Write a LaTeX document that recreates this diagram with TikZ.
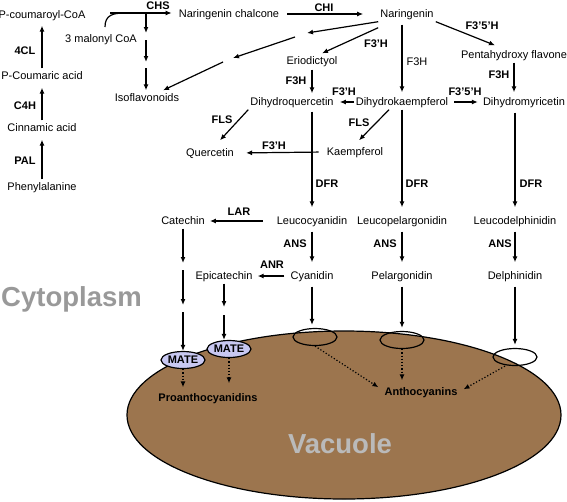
\documentclass[tikz,border=0pt]{standalone}
\usepackage{fontspec}
\setmainfont{Liberation Sans}
\usetikzlibrary{arrows.meta,shapes.geometric}
\definecolor{vacbrown}{RGB}{156,117,78}
\definecolor{matefill}{RGB}{200,200,242}
\newcommand{\metfont}{\fontsize{11}{13}\selectfont}
\begin{document}
\begin{tikzpicture}[x=1pt, y=-1pt,
    met/.style={font=\metfont, inner sep=2pt, text height=8.5pt, text depth=2.5pt},
    enz/.style={font=\metfont\bfseries, inner sep=1pt, text height=8pt, text depth=0pt},
    arrow/.style={-{Latex[length=6pt,width=5pt]}, line width=1.2pt},
    dotarrow/.style={arrow, dotted},
    mate/.style={ellipse, draw, line width=1.2pt, fill=matefill, minimum width=44pt, minimum height=17pt, inner sep=0pt, font=\fontsize{11}{12}\selectfont\bfseries},
    vesicle/.style={ellipse, draw, line width=1.2pt, minimum width=44pt, minimum height=17pt, inner sep=0pt},
    region/.style={font=\fontsize{27.5}{30}\selectfont\bfseries, inner sep=0pt}
]
\useasboundingbox (0,0) rectangle (567,501);

% Vacuole
\draw[fill=vacbrown, line width=1.2pt] (344,415) ellipse [x radius=217pt, y radius=84pt];
\node[region, text=black!40, anchor=base west] (cyto) at (1,306) {Cytoplasm};
\node[region, text=black!27, anchor=base] (vac) at (340,453) {Vacuole};

% Phenylpropanoid column
\node[met] (pcoa) at (42,15) {P-coumaroyl-CoA};
\node[met] (pca) at (42,76) {P-Coumaric acid};
\node[met] (cin) at (42,128) {Cinnamic acid};
\node[met] (phe) at (42,187) {Phenylalanine};
\node[enz] at (25,50) {4CL};
\node[enz] at (25,105) {C4H};
\node[enz] at (25,160) {PAL};

% Flavonoid core
\node[met] (malo) at (101,39) {3 malonyl CoA};
\node[met] (chal) at (229,14) {Naringenin chalcone};
\node[met] (iso) at (147,98) {Isoflavonoids};
\node[met] (nar) at (407,14) {Naringenin};
\node[met] (erio) at (312,61) {Eriodictyol};
\node[met] (penta) at (514,55) {Pentahydroxy flavone};
\node[met] (dhq) at (292,102) {Dihydroquercetin};
\node[met] (dhk) at (402,102) {Dihydrokaempferol};
\node[met] (dhm) at (524,102) {Dihydromyricetin};
\node[met] (que) at (210,153) {Quercetin};
\node[met] (kae) at (355,152) {Kaempferol};

% Leucoanthocyanidins and anthocyanidins
\node[met] (cat) at (183,221) {Catechin};
\node[met] (lcy) at (312,221) {Leucocyanidin};
\node[met] (lpe) at (402,221) {Leucopelargonidin};
\node[met] (lde) at (515,221) {Leucodelphinidin};
\node[met] (epi) at (224,276) {Epicatechin};
\node[met] (cya) at (312,276) {Cyanidin};
\node[met] (pel) at (402,276) {Pelargonidin};
\node[met] (del) at (515,276) {Delphinidin};

% Transporters and vacuolar products
\node[mate] (mate1) at (183,360) {MATE};
\node[mate] (mate2) at (229,349) {MATE};
\node[vesicle] (ves1) at (315,337) {};
\node[vesicle] (ves2) at (402,340) {};
\node[vesicle] (ves3) at (515,357) {};
\node[met, font=\metfont\bfseries] (proa) at (208,398) {Proanthocyanidins};
\node[met, font=\metfont\bfseries] (antho) at (421,392) {Anthocyanins};

% Enzyme labels
\node[enz] at (158,5) {CHS};
\node[enz] at (324,7) {CHI};
\node[enz] at (376,43) {F3'H};
\node[enz] at (296,80) {F3H};
\node[enz] at (344,91) {F3'H};
\node[met] at (417,62) {F3H};
\node[enz] at (482,25) {F3'5'H};
\node[enz] at (499,74) {F3H};
\node[enz] at (465,91) {F3'5'H};
\node[enz] at (222,119) {FLS};
\node[enz] at (359,122) {FLS};
\node[enz] at (274,145) {F3'H};
\node[enz] at (327,183) {DFR};
\node[enz] at (417,183) {DFR};
\node[enz] at (531,183) {DFR};
\node[enz] at (239,211) {LAR};
\node[enz] at (295,243) {ANS};
\node[enz] at (385,243) {ANS};
\node[enz] at (500,243) {ANS};
\node[enz] at (272,264) {ANR};

% Helper points for the broken arrows
\coordinate (chsA) at (110,13);
\coordinate (mc) at (105,27);
\coordinate (mj) at (125,13);
\coordinate (s1) at (146,13);
\coordinate (s2) at (146,33);
\coordinate (s3) at (146,40);
\coordinate (s4) at (146,62);
\coordinate (s5) at (146,68);
\coordinate (n1) at (307,33);
\coordinate (n2) at (295,37);
\coordinate (n3) at (233,58);
\coordinate (n4) at (223,62);
\coordinate (c1) at (183,263);
\coordinate (c2) at (183,270);
\coordinate (c3) at (183,305);
\coordinate (c4) at (183,312);
\coordinate (e1) at (224,307);
\coordinate (e2) at (224,315);

% Arrows
\draw[arrow, shorten >=3pt] (pca) -- (pcoa);
\draw[arrow, shorten >=4pt] (cin) -- (pca);
\draw[arrow, shorten >=4pt] (phe) -- (cin);
\draw[arrow, line width=2pt, shorten >=5pt] (chsA) -- (chsA -| chal.west);
\draw[line width=1.2pt] (mc) .. controls +(0,-12) and +(-12,0) .. (mj);
\draw[arrow] (s1) -- (s2);
\draw[arrow] (s3) -- (s4);
\draw[arrow] (s5) -- (s5 |- iso.north);
\draw[arrow, shorten <=6pt, shorten >=15pt] (chal) -- (nar);
\draw[arrow] (nar.south west) -- (n1);
\draw[arrow] (n2) -- (n3);
\draw[arrow] (n4) -- ([xshift=16pt]iso.north);
\draw[arrow] ([yshift=-6pt]nar.south west) -- ([xshift=10pt]erio.north);
\draw[arrow, shorten <=1pt, shorten >=1pt] (erio) -- (erio |- dhq.north);
\draw[arrow, shorten <=3pt, shorten >=2pt] (nar.south -| dhk) -- (dhk.north);
\draw[arrow] (nar.south east) -- ([xshift=-19pt,yshift=2pt]penta.north);
\draw[arrow, shorten >=2pt] (penta) -- (penta |- dhm.north);
\draw[arrow, shorten >=4pt] (dhk.west) -- (dhq.east);
\draw[arrow, shorten <=4pt, shorten >=3pt] (dhk.east) -- (dhm.west);
\draw[arrow] (dhq.south west) -- ([xshift=10pt,yshift=5pt]que.north);
\draw[arrow] ([xshift=-13pt]dhk.south) -- ([xshift=4pt,yshift=4pt]kae.north);
\draw[arrow, shorten <=6pt, shorten >=10pt] (kae.west) -- (que.east);
\draw[arrow, shorten <=2pt, shorten >=6pt] (lcy |- dhq.south) -- (lcy.north);
\draw[arrow, shorten >=6pt] (dhk) -- (lpe);
\draw[arrow, shorten <=3pt, shorten >=6pt] (lde |- dhm.south) -- (lde.north);
\draw[arrow, shorten <=12pt, shorten >=3pt] (lcy.west) -- (cat.east);
\draw[arrow, shorten <=3pt, shorten >=6pt] (lcy) -- (cya);
\draw[arrow, shorten <=3pt, shorten >=6pt] (lpe) -- (pel);
\draw[arrow, shorten <=3pt, shorten >=6pt] (lde) -- (del);
\draw[arrow, shorten <=4pt, shorten >=3pt] (cya.west) -- (epi.east);

% Transport into the vacuole
\draw[arrow] (cat) -- (c1);
\draw[arrow] (c2) -- (c3);
\draw[arrow] (c4) -- (mate1.north);
\draw[arrow] (epi) -- (e1);
\draw[arrow] (e2) -- (e2 |- mate2.north);
\draw[arrow, shorten <=3pt, shorten >=3pt] (cya) -- (cya |- ves1.north);
\draw[arrow, shorten <=3pt, shorten >=3pt] (pel) -- (ves2);
\draw[arrow, shorten <=3pt, shorten >=3pt] (del) -- (ves3);
\draw[dotarrow, shorten >=3pt] (mate1.south) -- (mate1.south |- proa.north);
\draw[dotarrow, shorten >=7pt] (mate2.south) -- (mate2.south |- proa.north);
\draw[dotarrow] (ves1.south) -- ([xshift=-4pt,yshift=-3pt]antho.north west);
\draw[dotarrow, shorten >=4pt] (ves2.south) -- (ves2.south |- antho.north);
\draw[dotarrow] ([xshift=-10pt]ves3.south) -- ([xshift=4pt,yshift=-5pt]antho.north east);

\end{tikzpicture}
\end{document}
